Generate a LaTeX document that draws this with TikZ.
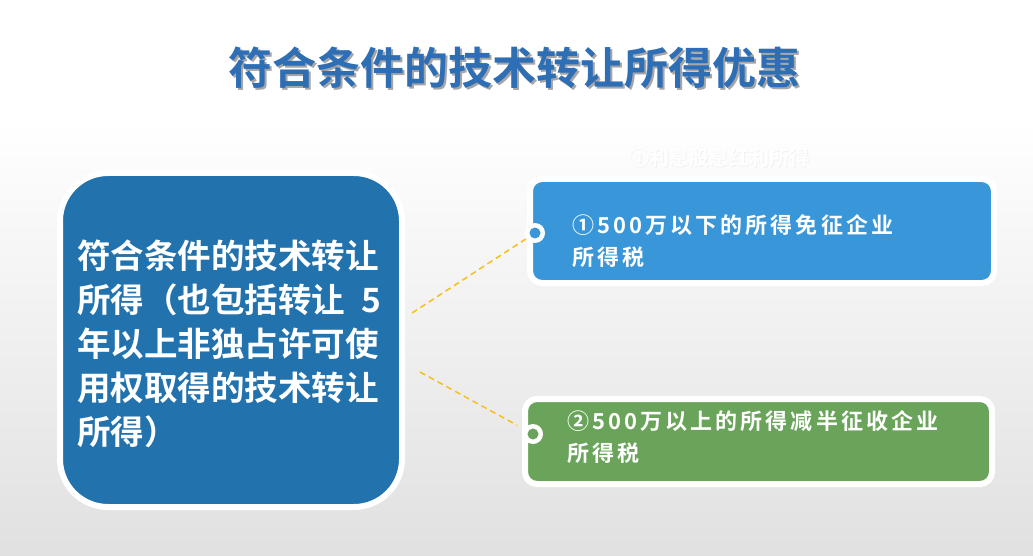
\documentclass[tikz,border=0pt]{standalone}
\usepackage{fontspec}
\setmainfont{Noto Sans CJK SC}[BoldFont={Noto Sans CJK SC Bold}]
\usetikzlibrary{positioning}
\definecolor{titleblue}{HTML}{2E6EB5}
\definecolor{srcblue}{HTML}{2272AD}
\definecolor{lowblue}{HTML}{3997D9}
\definecolor{highgreen}{HTML}{69A45A}
\definecolor{dashorange}{HTML}{F6BF1A}

\begin{document}
\begin{tikzpicture}[x=1pt,y=1pt,
  bigbox/.style={draw=white,line width=6pt,fill=srcblue,rounded corners=48pt,
    minimum width=342pt,minimum height=334pt,inner sep=0pt},
  smallbox/.style={draw=white,line width=6pt,fill=#1,rounded corners=12pt,inner sep=0pt},
  dotnode/.style={circle,fill=white,minimum size=20pt,inner sep=0pt},
  boxtext/.style={text=white,font=\bfseries\fontsize{22}{32}\selectfont\addfontfeatures{LetterSpace=14},
    anchor=north west,align=left,inner sep=0pt},
  link/.style={dashorange,line width=1.5pt,dash pattern=on 6pt off 4pt}]
% background
\useasboundingbox (0,0) rectangle (1033,-556);
\fill[white] (0,0) rectangle (1033,-120);
\shade[top color=white,bottom color=black!12] (0,-120) rectangle (1033,-556);

% title
\node[text=black!35,font=\bfseries\fontsize{44}{50}\selectfont] at (516,-70) {符合条件的技术转让所得优惠};
\node[text=titleblue,font=\bfseries\fontsize{44}{50}\selectfont] (title) at (514,-68) {符合条件的技术转让所得优惠};

% faint heading
\node[text=black!5,font=\bfseries\fontsize{20}{24}\selectfont] at (720,-159) {①利息股息红利所得};
\node[text=white,font=\bfseries\fontsize{20}{24}\selectfont] (ghost) at (719,-158) {①利息股息红利所得};

% left box
\node[bigbox] (srcbox) at (231,-340) {};
\node[text=white,font=\bfseries\fontsize{33.5}{44}\selectfont,text width=304pt,align=left,
  inner sep=0pt] (srctext) at (229,-344)
  {符合条件的技术转让\\所得（也包括转让\hfill5\\年以上非独占许可使\\用权取得的技术转让\\所得）};

% right boxes
\node[smallbox=lowblue,minimum width=464pt,minimum height=104pt] (lowbox) at (762,-231) {};
\node[smallbox=highgreen,minimum width=467pt,minimum height=85pt] (highbox) at (758.5,-441.5) {};

\node[boxtext] (lowtext) at (572,-214) {①500万以下的所得免征企业\\所得税};
\node[boxtext] (hightext) at (567,-410) {②500万以上的所得减半征收企业\\所得税};

% dots on the boxes
\node[dotnode] (lowdot) at (535,-233) {};
\fill[lowblue] (lowdot) circle (5.5pt);
\node[dotnode] (highdot) at (533,-434) {};
\fill[highgreen] (highdot) circle (5.5pt);

% dashed links
\coordinate (srcA) at (412,-313);
\coordinate (srcB) at (420,-372);
\draw[link,shorten >=1pt] (srcA) -- (lowdot);
\draw[link,shorten >=8pt] (srcB) -- (highdot);
\end{tikzpicture}
\end{document}
